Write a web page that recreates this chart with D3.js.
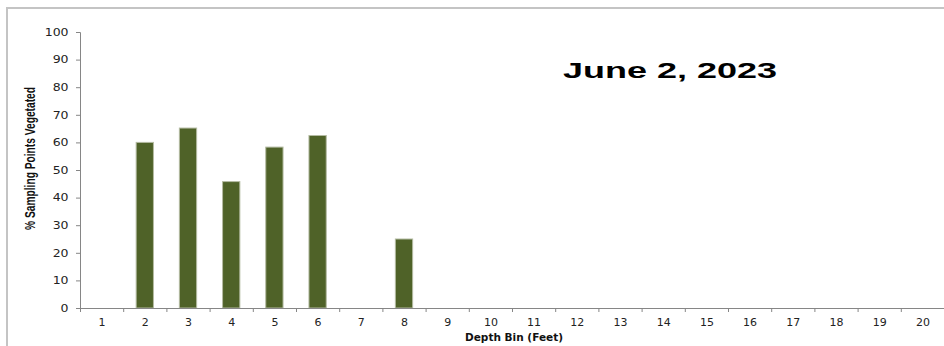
<!DOCTYPE html>
<html>
<head>
<meta charset="utf-8">
<script src="https://cdn.jsdelivr.net/npm/d3@7"></script>
<style>
  html, body { margin: 0; padding: 0; background: #fff; }
  svg { display: block; }
</style>
</head>
<body>
<svg id="chart" width="944" height="346"></svg>
<script>
// Depth bins (feet) and % of sampling points vegetated in each bin
const depthBins = d3.range(1, 21);
const vegetatedPct = [0, 60, 65.2, 45.8, 58.3, 62.5, 0, 25, 0, 0, 0, 0, 0, 0, 0, 0, 0, 0, 0, 0];
const yTicks = [0, 10, 20, 30, 40, 50, 60, 70, 80, 90, 100];
const chartTitle = "June 2, 2023";
const xTitle = "Depth Bin (Feet)";
const yTitle = "% Sampling Points Vegetated";

const svg = d3.select("#chart");
const plotLeft = 80, plotRight = 944, plotTop = 32, plotBottom = 308;
const axisColor = "#868686";

// chart frame
svg.append("rect")
  .attr("x", 7).attr("y", 8)
  .attr("width", 960).attr("height", 360)
  .attr("fill", "none")
  .attr("stroke", "#c4c4c4")
  .attr("stroke-width", 2);

const x = d3.scaleBand()
  .domain(depthBins)
  .range([plotLeft, plotRight])
  .paddingInner(0.6)
  .paddingOuter(0.3);

// bin boundaries for the category tick marks
const xEdges = d3.scaleLinear().domain([0.5, 20.5]).range([plotLeft, plotRight]);

const y = d3.scaleLinear().domain([0, 100]).range([plotBottom, plotTop]);

// bars
svg.append("g")
  .selectAll("rect")
  .data(depthBins.map((d, i) => ({ bin: d, v: vegetatedPct[i] })).filter(d => d.v > 0))
  .join("rect")
  .attr("x", d => x(d.bin))
  .attr("y", d => y(d.v))
  .attr("width", x.bandwidth())
  .attr("height", d => y(0) - y(d.v))
  .attr("fill", "#4f6228")
  .attr("stroke", "#b4bba2")
  .attr("stroke-width", 1);

// y axis
const yAxis = svg.append("g")
  .attr("transform", `translate(${plotLeft},0)`)
  .call(d3.axisLeft(y).tickValues(yTicks).tickSize(4).tickPadding(7));
yAxis.select(".domain").attr("stroke", axisColor);
yAxis.selectAll(".tick line").attr("stroke", axisColor);
yAxis.selectAll(".tick text")
  .attr("font-family", "DejaVu Sans, Verdana, sans-serif")
  .attr("font-size", 10)
  .attr("fill", "#222")
  .attr("transform", "scale(1.25,1)")
  .attr("x", -11.5 / 1.25);

// x axis: boundary ticks
const xAxisTicks = svg.append("g")
  .attr("transform", `translate(0,${plotBottom})`)
  .call(d3.axisBottom(xEdges).tickValues(d3.range(0.5, 21, 1)).tickSize(4).tickFormat(""));
xAxisTicks.select(".domain").attr("stroke", axisColor);
xAxisTicks.selectAll(".tick line").attr("stroke", axisColor);

// x axis: category labels
const xAxisLabels = svg.append("g")
  .attr("transform", `translate(0,${plotBottom})`)
  .call(d3.axisBottom(x).tickSize(0).tickPadding(11));
xAxisLabels.select(".domain").remove();
xAxisLabels.selectAll(".tick text")
  .attr("font-family", "DejaVu Sans, Verdana, sans-serif")
  .attr("font-size", 10)
  .attr("fill", "#222")
  .attr("transform", "scale(1.1,1)")
  .attr("x", 0.5 / 1.1);

// axis titles
svg.append("text")
  .attr("x", 465).attr("y", 341)
  .attr("textLength", 98)
  .attr("lengthAdjust", "spacingAndGlyphs")
  .attr("font-family", "DejaVu Sans, Verdana, sans-serif")
  .attr("font-weight", "bold")
  .attr("font-size", 10)
  .attr("fill", "#111")
  .text(xTitle);

svg.append("text")
  .attr("transform", "translate(34.5,230) rotate(-90)")
  .attr("x", 0).attr("y", 0)
  .attr("textLength", 143)
  .attr("lengthAdjust", "spacingAndGlyphs")
  .attr("font-family", "Liberation Sans Narrow, Liberation Sans, Arial, sans-serif")
  .attr("font-weight", "bold")
  .attr("font-size", 14)
  .attr("fill", "#111")
  .text(yTitle);

// chart title
svg.append("text")
  .attr("x", 563).attr("y", 78)
  .attr("textLength", 214)
  .attr("lengthAdjust", "spacingAndGlyphs")
  .attr("font-family", "Liberation Sans, Arial, sans-serif")
  .attr("font-weight", "bold")
  .attr("font-size", 22.5)
  .attr("fill", "#000")
  .text(chartTitle);
</script>
</body>
</html>
